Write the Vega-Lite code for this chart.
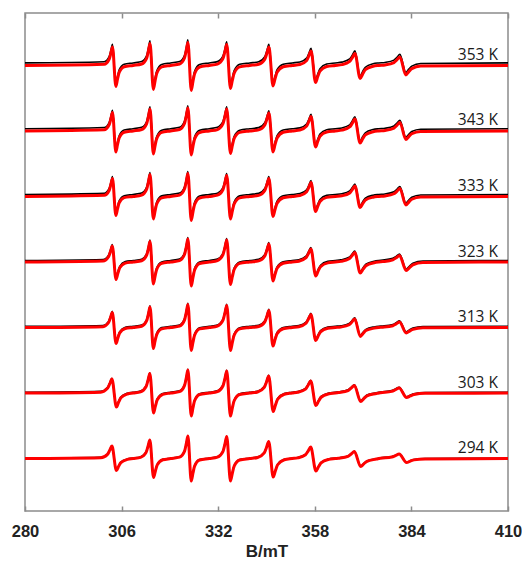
{
"$schema":"https://vega.github.io/schema/vega-lite/v6.json",
"width":483,"height":498,
"autosize":{"type":"none"},
"padding":{"left":25,"top":13,"right":14,"bottom":51},
"background":"white",
"config":{"view":{"stroke":"#8c8c8c","strokeWidth":1.5},"axis":{"grid":false}},
"datasets":{
"labels":[{"T":353,"label":"353 K"},{"T":343,"label":"343 K"},{"T":333,"label":"333 K"},{"T":323,"label":"323 K"},{"T":313,"label":"313 K"},{"T":303,"label":"303 K"},{"T":294,"label":"294 K"}],
"spec":[
{"T":353,"B":280,"s":0,"e":2.5},
{"T":353,"B":301.3,"s":1.2,"e":3.7},{"T":353,"B":302.65,"s":6.2,"e":8.7},{"T":353,"B":303.1,"s":12.1,"e":14.6},{"T":353,"B":303.55,"s":18.5,"e":21},{"T":353,"B":304.45,"s":-21,"e":-18.5},{"T":353,"B":304.9,"s":-13.7,"e":-11.2},{"T":353,"B":305.35,"s":-7,"e":-4.5},{"T":353,"B":306.7,"s":-1.3,"e":1.2},
{"T":353,"B":309.1,"s":0,"e":2.5},
{"T":353,"B":311.4,"s":1.4,"e":3.9},{"T":353,"B":312.75,"s":7.3,"e":9.8},{"T":353,"B":313.2,"s":14.4,"e":16.9},{"T":353,"B":313.65,"s":22,"e":24.5},{"T":353,"B":314.55,"s":-24,"e":-21.5},{"T":353,"B":315.0,"s":-15.7,"e":-13.2},{"T":353,"B":315.45,"s":-8,"e":-5.5},{"T":353,"B":316.8,"s":-1.5,"e":1},
{"T":353,"B":319.2,"s":0,"e":2.5},
{"T":353,"B":321.6,"s":1.4,"e":3.9},{"T":353,"B":322.95,"s":7.7,"e":10.2},{"T":353,"B":323.4,"s":15,"e":17.5},{"T":353,"B":323.85,"s":23,"e":25.5},{"T":353,"B":324.75,"s":-25,"e":-22.5},{"T":353,"B":325.2,"s":-16.3,"e":-13.8},{"T":353,"B":325.65,"s":-8.3,"e":-5.8},{"T":353,"B":327.0,"s":-1.6,"e":0.9},
{"T":353,"B":329.6,"s":0,"e":2.5},
{"T":353,"B":331.8,"s":1.3,"e":3.8},{"T":353,"B":333.3,"s":7,"e":9.5},{"T":353,"B":333.8,"s":13.7,"e":16.2},{"T":353,"B":334.3,"s":21,"e":23.5},{"T":353,"B":335.3,"s":-23,"e":-20.5},{"T":353,"B":335.8,"s":-15,"e":-12.5},{"T":353,"B":336.3,"s":-7.7,"e":-5.2},{"T":353,"B":337.8,"s":-1.4,"e":1.1},
{"T":353,"B":340.5,"s":0,"e":2.5},
{"T":353,"B":342.9,"s":1.2,"e":3.7},{"T":353,"B":344.55,"s":6.2,"e":8.7},{"T":353,"B":345.1,"s":12.1,"e":14.6},{"T":353,"B":345.65,"s":18.5,"e":21},{"T":353,"B":346.75,"s":-20.5,"e":-18},{"T":353,"B":347.3,"s":-13.4,"e":-10.9},{"T":353,"B":347.85,"s":-6.8,"e":-4.3},{"T":353,"B":349.5,"s":-1.3,"e":1.2},
{"T":353,"B":351.9,"s":0,"e":2.5},
{"T":353,"B":354.0,"s":0.9,"e":3.4},{"T":353,"B":355.8,"s":4.8,"e":7.3},{"T":353,"B":356.4,"s":9.5,"e":12},{"T":353,"B":357.0,"s":14.5,"e":17},{"T":353,"B":358.2,"s":-17,"e":-14.5},{"T":353,"B":358.8,"s":-11.1,"e":-8.6},{"T":353,"B":359.4,"s":-5.7,"e":-3.2},{"T":353,"B":361.2,"s":-1.1,"e":1.4},
{"T":353,"B":363.5,"s":0,"e":2.5},
{"T":353,"B":365.3,"s":0.8,"e":3.3},{"T":353,"B":367.4,"s":4,"e":6.5},{"T":353,"B":368.1,"s":7.8,"e":10.3},{"T":353,"B":368.8,"s":12,"e":14.5},{"T":353,"B":370.2,"s":-13,"e":-10.5},{"T":353,"B":370.9,"s":-8.5,"e":-6},{"T":353,"B":371.6,"s":-4.3,"e":-1.8},{"T":353,"B":373.7,"s":-0.8,"e":1.7},
{"T":353,"B":375.2,"s":0,"e":2.5},
{"T":353,"B":376.9,"s":0.5,"e":3},{"T":353,"B":379.3,"s":2.8,"e":5.3},{"T":353,"B":380.1,"s":5.6,"e":8.1},{"T":353,"B":380.9,"s":8.5,"e":11},{"T":353,"B":382.5,"s":-9.5,"e":-7},{"T":353,"B":383.3,"s":-6.2,"e":-3.7},{"T":353,"B":384.1,"s":-3.2,"e":-0.7},{"T":353,"B":386.5,"s":-0.6,"e":1.9},
{"T":353,"B":410,"s":0,"e":2.5},

{"T":343,"B":280,"s":0,"e":2.2},
{"T":343,"B":301.3,"s":1.2,"e":3.4},{"T":343,"B":302.65,"s":6.2,"e":8.4},{"T":343,"B":303.1,"s":12.1,"e":14.3},{"T":343,"B":303.55,"s":18.5,"e":20.7},{"T":343,"B":304.45,"s":-21,"e":-18.8},{"T":343,"B":304.9,"s":-13.7,"e":-11.5},{"T":343,"B":305.35,"s":-7,"e":-4.8},{"T":343,"B":306.7,"s":-1.3,"e":0.9},
{"T":343,"B":309.1,"s":0,"e":2.2},
{"T":343,"B":311.4,"s":1.4,"e":3.6},{"T":343,"B":312.75,"s":7.3,"e":9.5},{"T":343,"B":313.2,"s":14.4,"e":16.6},{"T":343,"B":313.65,"s":22,"e":24.2},{"T":343,"B":314.55,"s":-23,"e":-20.8},{"T":343,"B":315.0,"s":-15,"e":-12.8},{"T":343,"B":315.45,"s":-7.7,"e":-5.5},{"T":343,"B":316.8,"s":-1.4,"e":0.8},
{"T":343,"B":319.2,"s":0,"e":2.2},
{"T":343,"B":321.6,"s":1.4,"e":3.6},{"T":343,"B":322.95,"s":7.7,"e":9.9},{"T":343,"B":323.4,"s":15,"e":17.2},{"T":343,"B":323.85,"s":23,"e":25.2},{"T":343,"B":324.75,"s":-24,"e":-21.8},{"T":343,"B":325.2,"s":-15.7,"e":-13.5},{"T":343,"B":325.65,"s":-8,"e":-5.8},{"T":343,"B":327.0,"s":-1.5,"e":0.7},
{"T":343,"B":329.6,"s":0,"e":2.2},
{"T":343,"B":331.8,"s":1.4,"e":3.6},{"T":343,"B":333.3,"s":7.3,"e":9.5},{"T":343,"B":333.8,"s":14.4,"e":16.6},{"T":343,"B":334.3,"s":22,"e":24.2},{"T":343,"B":335.3,"s":-22.5,"e":-20.3},{"T":343,"B":335.8,"s":-14.7,"e":-12.5},{"T":343,"B":336.3,"s":-7.5,"e":-5.3},{"T":343,"B":337.8,"s":-1.4,"e":0.8},
{"T":343,"B":340.5,"s":0,"e":2.2},
{"T":343,"B":342.9,"s":1.1,"e":3.3},{"T":343,"B":344.55,"s":6,"e":8.2},{"T":343,"B":345.1,"s":11.8,"e":14},{"T":343,"B":345.65,"s":18,"e":20.2},{"T":343,"B":346.75,"s":-21,"e":-18.8},{"T":343,"B":347.3,"s":-13.7,"e":-11.5},{"T":343,"B":347.85,"s":-7,"e":-4.8},{"T":343,"B":349.5,"s":-1.3,"e":0.9},
{"T":343,"B":351.9,"s":0,"e":2.2},
{"T":343,"B":354.0,"s":0.9,"e":3.1},{"T":343,"B":355.8,"s":4.8,"e":7},{"T":343,"B":356.4,"s":9.5,"e":11.7},{"T":343,"B":357.0,"s":14.5,"e":16.7},{"T":343,"B":358.2,"s":-16,"e":-13.8},{"T":343,"B":358.8,"s":-10.4,"e":-8.2},{"T":343,"B":359.4,"s":-5.3,"e":-3.1},{"T":343,"B":361.2,"s":-1,"e":1.2},
{"T":343,"B":363.5,"s":0,"e":2.2},
{"T":343,"B":365.3,"s":0.8,"e":3},{"T":343,"B":367.4,"s":4,"e":6.2},{"T":343,"B":368.1,"s":7.8,"e":10},{"T":343,"B":368.8,"s":12,"e":14.2},{"T":343,"B":370.2,"s":-12,"e":-9.8},{"T":343,"B":370.9,"s":-7.8,"e":-5.6},{"T":343,"B":371.6,"s":-4,"e":-1.8},{"T":343,"B":373.7,"s":-0.8,"e":1.4},
{"T":343,"B":375.2,"s":0,"e":2.2},
{"T":343,"B":376.9,"s":0.5,"e":2.7},{"T":343,"B":379.3,"s":2.8,"e":5},{"T":343,"B":380.1,"s":5.6,"e":7.8},{"T":343,"B":380.9,"s":8.5,"e":10.7},{"T":343,"B":382.5,"s":-8.5,"e":-6.3},{"T":343,"B":383.3,"s":-5.6,"e":-3.4},{"T":343,"B":384.1,"s":-2.8,"e":-0.6},{"T":343,"B":386.5,"s":-0.5,"e":1.7},
{"T":343,"B":410,"s":0,"e":2.2},

{"T":333,"B":280,"s":0,"e":2},
{"T":333,"B":301.3,"s":1.1,"e":3.1},{"T":333,"B":302.65,"s":6,"e":8},{"T":333,"B":303.1,"s":11.8,"e":13.8},{"T":333,"B":303.55,"s":18,"e":20},{"T":333,"B":304.45,"s":-19,"e":-17},{"T":333,"B":304.9,"s":-12.4,"e":-10.4},{"T":333,"B":305.35,"s":-6.3,"e":-4.3},{"T":333,"B":306.7,"s":-1.2,"e":0.8},
{"T":333,"B":309.1,"s":0,"e":2},
{"T":333,"B":311.4,"s":1.4,"e":3.4},{"T":333,"B":312.75,"s":7.3,"e":9.3},{"T":333,"B":313.2,"s":14.4,"e":16.4},{"T":333,"B":313.65,"s":22,"e":24},{"T":333,"B":314.55,"s":-22.5,"e":-20.5},{"T":333,"B":315.0,"s":-14.7,"e":-12.7},{"T":333,"B":315.45,"s":-7.5,"e":-5.5},{"T":333,"B":316.8,"s":-1.4,"e":0.6},
{"T":333,"B":319.2,"s":0,"e":2},
{"T":333,"B":321.6,"s":1.4,"e":3.4},{"T":333,"B":322.95,"s":7.7,"e":9.7},{"T":333,"B":323.4,"s":15,"e":17},{"T":333,"B":323.85,"s":23,"e":25},{"T":333,"B":324.75,"s":-24,"e":-22},{"T":333,"B":325.2,"s":-15.7,"e":-13.7},{"T":333,"B":325.65,"s":-8,"e":-6},{"T":333,"B":327.0,"s":-1.5,"e":0.5},
{"T":333,"B":329.6,"s":0,"e":2},
{"T":333,"B":331.8,"s":1.3,"e":3.3},{"T":333,"B":333.3,"s":7,"e":9},{"T":333,"B":333.8,"s":13.7,"e":15.7},{"T":333,"B":334.3,"s":21,"e":23},{"T":333,"B":335.3,"s":-22.5,"e":-20.5},{"T":333,"B":335.8,"s":-14.7,"e":-12.7},{"T":333,"B":336.3,"s":-7.5,"e":-5.5},{"T":333,"B":337.8,"s":-1.4,"e":0.6},
{"T":333,"B":340.5,"s":0,"e":2},
{"T":333,"B":342.9,"s":1.1,"e":3.1},{"T":333,"B":344.55,"s":6,"e":8},{"T":333,"B":345.1,"s":11.8,"e":13.8},{"T":333,"B":345.65,"s":18,"e":20},{"T":333,"B":346.75,"s":-20,"e":-18},{"T":333,"B":347.3,"s":-13.1,"e":-11.1},{"T":333,"B":347.85,"s":-6.7,"e":-4.7},{"T":333,"B":349.5,"s":-1.3,"e":0.7},
{"T":333,"B":351.9,"s":0,"e":2},
{"T":333,"B":354.0,"s":0.9,"e":2.9},{"T":333,"B":355.8,"s":4.7,"e":6.7},{"T":333,"B":356.4,"s":9.1,"e":11.1},{"T":333,"B":357.0,"s":14,"e":16},{"T":333,"B":358.2,"s":-15,"e":-13},{"T":333,"B":358.8,"s":-9.8,"e":-7.8},{"T":333,"B":359.4,"s":-5,"e":-3},{"T":333,"B":361.2,"s":-0.9,"e":1.1},
{"T":333,"B":363.5,"s":0,"e":2},
{"T":333,"B":365.3,"s":0.7,"e":2.7},{"T":333,"B":367.4,"s":3.5,"e":5.5},{"T":333,"B":368.1,"s":6.9,"e":8.9},{"T":333,"B":368.8,"s":10.5,"e":12.5},{"T":333,"B":370.2,"s":-11,"e":-9},{"T":333,"B":370.9,"s":-7.2,"e":-5.2},{"T":333,"B":371.6,"s":-3.7,"e":-1.7},{"T":333,"B":373.7,"s":-0.7,"e":1.3},
{"T":333,"B":375.2,"s":0,"e":2},
{"T":333,"B":376.9,"s":0.5,"e":2.5},{"T":333,"B":379.3,"s":2.7,"e":4.7},{"T":333,"B":380.1,"s":5.2,"e":7.2},{"T":333,"B":380.9,"s":8,"e":10},{"T":333,"B":382.5,"s":-8.5,"e":-6.5},{"T":333,"B":383.3,"s":-5.6,"e":-3.6},{"T":333,"B":384.1,"s":-2.8,"e":-0.8},{"T":333,"B":386.5,"s":-0.5,"e":1.5},
{"T":333,"B":410,"s":0,"e":2},

{"T":323,"B":280,"s":0,"e":1.5},
{"T":323,"B":301.0,"s":1,"e":2.5},{"T":323,"B":302.5,"s":5.3,"e":6.8},{"T":323,"B":303.0,"s":10.4,"e":11.9},{"T":323,"B":303.5,"s":16,"e":17.5},{"T":323,"B":304.5,"s":-17.5,"e":-16},{"T":323,"B":305.0,"s":-11.4,"e":-9.9},{"T":323,"B":305.5,"s":-5.8,"e":-4.3},{"T":323,"B":307.0,"s":-1.1,"e":0.4},
{"T":323,"B":309.1,"s":0,"e":1.5},
{"T":323,"B":311.4,"s":1.3,"e":2.8},{"T":323,"B":312.75,"s":6.8,"e":8.3},{"T":323,"B":313.2,"s":13.4,"e":14.9},{"T":323,"B":313.65,"s":20.5,"e":22},{"T":323,"B":314.55,"s":-22,"e":-20.5},{"T":323,"B":315.0,"s":-14.4,"e":-12.9},{"T":323,"B":315.45,"s":-7.3,"e":-5.8},{"T":323,"B":316.8,"s":-1.4,"e":0.1},
{"T":323,"B":319.2,"s":0,"e":1.5},
{"T":323,"B":321.6,"s":1.4,"e":2.9},{"T":323,"B":322.95,"s":7.7,"e":9.2},{"T":323,"B":323.4,"s":15,"e":16.5},{"T":323,"B":323.85,"s":23,"e":24.5},{"T":323,"B":324.75,"s":-24,"e":-22.5},{"T":323,"B":325.2,"s":-15.7,"e":-14.2},{"T":323,"B":325.65,"s":-8,"e":-6.5},{"T":323,"B":327.0,"s":-1.5,"e":0},
{"T":323,"B":329.6,"s":0,"e":1.5},
{"T":323,"B":331.8,"s":1.4,"e":2.9},{"T":323,"B":333.3,"s":7.3,"e":8.8},{"T":323,"B":333.8,"s":14.4,"e":15.9},{"T":323,"B":334.3,"s":22,"e":23.5},{"T":323,"B":335.3,"s":-22.5,"e":-21},{"T":323,"B":335.8,"s":-14.7,"e":-13.2},{"T":323,"B":336.3,"s":-7.5,"e":-6},{"T":323,"B":337.8,"s":-1.4,"e":0.1},
{"T":323,"B":340.5,"s":0,"e":1.5},
{"T":323,"B":342.9,"s":1.1,"e":2.6},{"T":323,"B":344.55,"s":6,"e":7.5},{"T":323,"B":345.1,"s":11.8,"e":13.3},{"T":323,"B":345.65,"s":18,"e":19.5},{"T":323,"B":346.75,"s":-19,"e":-17.5},{"T":323,"B":347.3,"s":-12.4,"e":-10.9},{"T":323,"B":347.85,"s":-6.3,"e":-4.8},{"T":323,"B":349.5,"s":-1.2,"e":0.3},
{"T":323,"B":351.9,"s":0,"e":1.5},
{"T":323,"B":353.7,"s":0.8,"e":2.3},{"T":323,"B":355.65,"s":4.3,"e":5.8},{"T":323,"B":356.3,"s":8.5,"e":10},{"T":323,"B":356.95,"s":13,"e":14.5},{"T":323,"B":358.25,"s":-14,"e":-12.5},{"T":323,"B":358.9,"s":-9.1,"e":-7.6},{"T":323,"B":359.55,"s":-4.7,"e":-3.2},{"T":323,"B":361.5,"s":-0.9,"e":0.6},
{"T":323,"B":363.5,"s":0,"e":1.5},
{"T":323,"B":365.0,"s":0.6,"e":2.1},{"T":323,"B":367.25,"s":3.2,"e":4.7},{"T":323,"B":368.0,"s":6.2,"e":7.7},{"T":323,"B":368.75,"s":9.5,"e":11},{"T":323,"B":370.25,"s":-11,"e":-9.5},{"T":323,"B":371.0,"s":-7.2,"e":-5.7},{"T":323,"B":371.75,"s":-3.7,"e":-2.2},{"T":323,"B":374.0,"s":-0.7,"e":0.8},
{"T":323,"B":375.2,"s":0,"e":1.5},
{"T":323,"B":376.3,"s":0.4,"e":1.9},{"T":323,"B":379.0,"s":2.2,"e":3.7},{"T":323,"B":379.9,"s":4.2,"e":5.7},{"T":323,"B":380.8,"s":6.5,"e":8},{"T":323,"B":382.6,"s":-8.5,"e":-7},{"T":323,"B":383.5,"s":-5.6,"e":-4.1},{"T":323,"B":384.4,"s":-2.8,"e":-1.3},{"T":323,"B":387.1,"s":-0.5,"e":1},
{"T":323,"B":410,"s":0,"e":1.5},

{"T":313,"B":280,"s":0,"e":1.2},
{"T":313,"B":301.0,"s":0.9,"e":2.1},{"T":313,"B":302.5,"s":5,"e":6.2},{"T":313,"B":303.0,"s":9.8,"e":11},{"T":313,"B":303.5,"s":15,"e":16.2},{"T":313,"B":304.5,"s":-16,"e":-14.8},{"T":313,"B":305.0,"s":-10.4,"e":-9.2},{"T":313,"B":305.5,"s":-5.3,"e":-4.1},{"T":313,"B":307.0,"s":-1,"e":0.2},
{"T":313,"B":309.1,"s":0,"e":1.2},
{"T":313,"B":311.4,"s":1.3,"e":2.5},{"T":313,"B":312.75,"s":6.8,"e":8},{"T":313,"B":313.2,"s":13.4,"e":14.6},{"T":313,"B":313.65,"s":20.5,"e":21.7},{"T":313,"B":314.55,"s":-21,"e":-19.8},{"T":313,"B":315.0,"s":-13.7,"e":-12.5},{"T":313,"B":315.45,"s":-7,"e":-5.8},{"T":313,"B":316.8,"s":-1.3,"e":-0.1},
{"T":313,"B":319.2,"s":0,"e":1.2},
{"T":313,"B":321.6,"s":1.4,"e":2.6},{"T":313,"B":322.95,"s":7.7,"e":8.9},{"T":313,"B":323.4,"s":15,"e":16.2},{"T":313,"B":323.85,"s":23,"e":24.2},{"T":313,"B":324.75,"s":-23,"e":-21.8},{"T":313,"B":325.2,"s":-15,"e":-13.8},{"T":313,"B":325.65,"s":-7.7,"e":-6.5},{"T":313,"B":327.0,"s":-1.4,"e":-0.2},
{"T":313,"B":329.6,"s":0,"e":1.2},
{"T":313,"B":331.8,"s":1.4,"e":2.6},{"T":313,"B":333.3,"s":7.3,"e":8.5},{"T":313,"B":333.8,"s":14.4,"e":15.6},{"T":313,"B":334.3,"s":22,"e":23.2},{"T":313,"B":335.3,"s":-23,"e":-21.8},{"T":313,"B":335.8,"s":-15,"e":-13.8},{"T":313,"B":336.3,"s":-7.7,"e":-6.5},{"T":313,"B":337.8,"s":-1.4,"e":-0.2},
{"T":313,"B":340.5,"s":0,"e":1.2},
{"T":313,"B":342.9,"s":1.1,"e":2.3},{"T":313,"B":344.55,"s":5.7,"e":6.9},{"T":313,"B":345.1,"s":11.1,"e":12.3},{"T":313,"B":345.65,"s":17,"e":18.2},{"T":313,"B":346.75,"s":-18.5,"e":-17.3},{"T":313,"B":347.3,"s":-12.1,"e":-10.9},{"T":313,"B":347.85,"s":-6.2,"e":-5},{"T":313,"B":349.5,"s":-1.2,"e":0},
{"T":313,"B":351.9,"s":0,"e":1.2},
{"T":313,"B":353.7,"s":0.8,"e":2},{"T":313,"B":355.65,"s":4.3,"e":5.5},{"T":313,"B":356.3,"s":8.5,"e":9.7},{"T":313,"B":356.95,"s":13,"e":14.2},{"T":313,"B":358.25,"s":-13,"e":-11.8},{"T":313,"B":358.9,"s":-8.5,"e":-7.3},{"T":313,"B":359.55,"s":-4.3,"e":-3.1},{"T":313,"B":361.5,"s":-0.8,"e":0.4},
{"T":313,"B":363.5,"s":0,"e":1.2},
{"T":313,"B":365.0,"s":0.5,"e":1.7},{"T":313,"B":367.25,"s":2.8,"e":4},{"T":313,"B":368.0,"s":5.6,"e":6.8},{"T":313,"B":368.75,"s":8.5,"e":9.7},{"T":313,"B":370.25,"s":-9,"e":-7.8},{"T":313,"B":371.0,"s":-5.9,"e":-4.7},{"T":313,"B":371.75,"s":-3,"e":-1.8},{"T":313,"B":374.0,"s":-0.6,"e":0.6},
{"T":313,"B":375.2,"s":0,"e":1.2},
{"T":313,"B":376.3,"s":0.3,"e":1.5},{"T":313,"B":379.0,"s":1.8,"e":3},{"T":313,"B":379.9,"s":3.6,"e":4.8},{"T":313,"B":380.8,"s":5.5,"e":6.7},{"T":313,"B":382.6,"s":-5.5,"e":-4.3},{"T":313,"B":383.5,"s":-3.6,"e":-2.4},{"T":313,"B":384.4,"s":-1.8,"e":-0.6},{"T":313,"B":387.1,"s":-0.3,"e":0.9},
{"T":313,"B":410,"s":0,"e":1.2},

{"T":303,"B":280,"s":0,"e":0.8},
{"T":303,"B":300.4,"s":0.9,"e":1.7},{"T":303,"B":302.2,"s":4.7,"e":5.5},{"T":303,"B":302.8,"s":9.1,"e":9.9},{"T":303,"B":303.4,"s":14,"e":14.8},{"T":303,"B":304.6,"s":-14,"e":-13.2},{"T":303,"B":305.2,"s":-9.1,"e":-8.3},{"T":303,"B":305.8,"s":-4.7,"e":-3.9},{"T":303,"B":307.6,"s":-0.9,"e":-0.1},
{"T":303,"B":309.1,"s":0,"e":0.8},
{"T":303,"B":311.1,"s":1.2,"e":2},{"T":303,"B":312.6,"s":6.5,"e":7.3},{"T":303,"B":313.1,"s":12.7,"e":13.5},{"T":303,"B":313.6,"s":19.5,"e":20.3},{"T":303,"B":314.6,"s":-20,"e":-19.2},{"T":303,"B":315.1,"s":-13.1,"e":-12.3},{"T":303,"B":315.6,"s":-6.7,"e":-5.9},{"T":303,"B":317.1,"s":-1.3,"e":-0.5},
{"T":303,"B":319.2,"s":0,"e":0.8},
{"T":303,"B":321.6,"s":1.4,"e":2.2},{"T":303,"B":322.95,"s":7.7,"e":8.5},{"T":303,"B":323.4,"s":15,"e":15.8},{"T":303,"B":323.85,"s":23,"e":23.8},{"T":303,"B":324.75,"s":-23,"e":-22.2},{"T":303,"B":325.2,"s":-15,"e":-14.2},{"T":303,"B":325.65,"s":-7.7,"e":-6.9},{"T":303,"B":327.0,"s":-1.4,"e":-0.6},
{"T":303,"B":329.6,"s":0,"e":0.8},
{"T":303,"B":331.8,"s":1.4,"e":2.2},{"T":303,"B":333.3,"s":7.3,"e":8.1},{"T":303,"B":333.8,"s":14.4,"e":15.2},{"T":303,"B":334.3,"s":22,"e":22.8},{"T":303,"B":335.3,"s":-23,"e":-22.2},{"T":303,"B":335.8,"s":-15,"e":-14.2},{"T":303,"B":336.3,"s":-7.7,"e":-6.9},{"T":303,"B":337.8,"s":-1.4,"e":-0.6},
{"T":303,"B":340.5,"s":0,"e":0.8},
{"T":303,"B":342.6,"s":1.1,"e":1.9},{"T":303,"B":344.4,"s":5.7,"e":6.5},{"T":303,"B":345.0,"s":11.1,"e":11.9},{"T":303,"B":345.6,"s":17,"e":17.8},{"T":303,"B":346.8,"s":-18.5,"e":-17.7},{"T":303,"B":347.4,"s":-12.1,"e":-11.3},{"T":303,"B":348.0,"s":-6.2,"e":-5.4},{"T":303,"B":349.8,"s":-1.2,"e":-0.4},
{"T":303,"B":351.9,"s":0,"e":0.8},
{"T":303,"B":353.4,"s":0.8,"e":1.6},{"T":303,"B":355.5,"s":4,"e":4.8},{"T":303,"B":356.2,"s":7.8,"e":8.6},{"T":303,"B":356.9,"s":12,"e":12.8},{"T":303,"B":358.3,"s":-12.5,"e":-11.7},{"T":303,"B":359.0,"s":-8.2,"e":-7.4},{"T":303,"B":359.7,"s":-4.2,"e":-3.4},{"T":303,"B":361.8,"s":-0.8,"e":0},
{"T":303,"B":363.5,"s":0,"e":0.8},
{"T":303,"B":364.4,"s":0.5,"e":1.3},{"T":303,"B":366.95,"s":2.5,"e":3.3},{"T":303,"B":367.8,"s":4.9,"e":5.7},{"T":303,"B":368.65,"s":7.5,"e":8.3},{"T":303,"B":370.35,"s":-8.5,"e":-7.7},{"T":303,"B":371.2,"s":-5.6,"e":-4.8},{"T":303,"B":372.05,"s":-2.8,"e":-2},{"T":303,"B":374.6,"s":-0.5,"e":0.3},
{"T":303,"B":375.2,"s":0,"e":0.8},
{"T":303,"B":375.7,"s":0.3,"e":1.1},{"T":303,"B":378.7,"s":1.7,"e":2.5},{"T":303,"B":379.7,"s":3.3,"e":4.1},{"T":303,"B":380.7,"s":5,"e":5.8},{"T":303,"B":382.7,"s":-4.5,"e":-3.7},{"T":303,"B":383.7,"s":-2.9,"e":-2.1},{"T":303,"B":384.7,"s":-1.5,"e":-0.7},{"T":303,"B":387.7,"s":-0.3,"e":0.5},
{"T":303,"B":410,"s":0,"e":0.8},

{"T":294,"B":280,"s":0,"e":0.4},
{"T":294,"B":300.4,"s":0.8,"e":1.2},{"T":294,"B":302.2,"s":4.2,"e":4.6},{"T":294,"B":302.8,"s":8.2,"e":8.6},{"T":294,"B":303.4,"s":12.5,"e":12.9},{"T":294,"B":304.6,"s":-12,"e":-11.6},{"T":294,"B":305.2,"s":-7.8,"e":-7.4},{"T":294,"B":305.8,"s":-4,"e":-3.6},{"T":294,"B":307.6,"s":-0.8,"e":-0.4},
{"T":294,"B":309.1,"s":0,"e":0.4},
{"T":294,"B":311.1,"s":1.2,"e":1.6},{"T":294,"B":312.6,"s":6.2,"e":6.6},{"T":294,"B":313.1,"s":12.1,"e":12.5},{"T":294,"B":313.6,"s":18.5,"e":18.9},{"T":294,"B":314.6,"s":-19,"e":-18.6},{"T":294,"B":315.1,"s":-12.4,"e":-12},{"T":294,"B":315.6,"s":-6.3,"e":-5.9},{"T":294,"B":317.1,"s":-1.2,"e":-0.8},
{"T":294,"B":319.2,"s":0,"e":0.4},
{"T":294,"B":321.6,"s":1.4,"e":1.8},{"T":294,"B":322.95,"s":7.5,"e":7.9},{"T":294,"B":323.4,"s":14.7,"e":15.1},{"T":294,"B":323.85,"s":22.5,"e":22.9},{"T":294,"B":324.75,"s":-22.5,"e":-22.1},{"T":294,"B":325.2,"s":-14.7,"e":-14.3},{"T":294,"B":325.65,"s":-7.5,"e":-7.1},{"T":294,"B":327.0,"s":-1.4,"e":-1},
{"T":294,"B":329.6,"s":0,"e":0.4},
{"T":294,"B":331.8,"s":1.4,"e":1.8},{"T":294,"B":333.3,"s":7.3,"e":7.7},{"T":294,"B":333.8,"s":14.4,"e":14.8},{"T":294,"B":334.3,"s":22,"e":22.4},{"T":294,"B":335.3,"s":-22.5,"e":-22.1},{"T":294,"B":335.8,"s":-14.7,"e":-14.3},{"T":294,"B":336.3,"s":-7.5,"e":-7.1},{"T":294,"B":337.8,"s":-1.4,"e":-1},
{"T":294,"B":340.5,"s":0,"e":0.4},
{"T":294,"B":342.6,"s":1.1,"e":1.5},{"T":294,"B":344.4,"s":5.7,"e":6.1},{"T":294,"B":345.0,"s":11.1,"e":11.5},{"T":294,"B":345.6,"s":17,"e":17.4},{"T":294,"B":346.8,"s":-18.5,"e":-18.1},{"T":294,"B":347.4,"s":-12.1,"e":-11.7},{"T":294,"B":348.0,"s":-6.2,"e":-5.8},{"T":294,"B":349.8,"s":-1.2,"e":-0.8},
{"T":294,"B":351.9,"s":0,"e":0.4},
{"T":294,"B":353.4,"s":0.7,"e":1.1},{"T":294,"B":355.5,"s":3.8,"e":4.2},{"T":294,"B":356.2,"s":7.5,"e":7.9},{"T":294,"B":356.9,"s":11.5,"e":11.9},{"T":294,"B":358.3,"s":-12.5,"e":-12.1},{"T":294,"B":359.0,"s":-8.2,"e":-7.8},{"T":294,"B":359.7,"s":-4.2,"e":-3.8},{"T":294,"B":361.8,"s":-0.8,"e":-0.4},
{"T":294,"B":363.5,"s":0,"e":0.4},
{"T":294,"B":364.4,"s":0.4,"e":0.8},{"T":294,"B":366.95,"s":2.3,"e":2.7},{"T":294,"B":367.8,"s":4.6,"e":5},{"T":294,"B":368.65,"s":7,"e":7.4},{"T":294,"B":370.35,"s":-8,"e":-7.6},{"T":294,"B":371.2,"s":-5.2,"e":-4.8},{"T":294,"B":372.05,"s":-2.7,"e":-2.3},{"T":294,"B":374.6,"s":-0.5,"e":-0.1},
{"T":294,"B":375.2,"s":0,"e":0.4},
{"T":294,"B":375.7,"s":0.3,"e":0.7},{"T":294,"B":378.7,"s":1.5,"e":1.9},{"T":294,"B":379.7,"s":2.9,"e":3.3},{"T":294,"B":380.7,"s":4.5,"e":4.9},{"T":294,"B":382.7,"s":-4,"e":-3.6},{"T":294,"B":383.7,"s":-2.6,"e":-2.2},{"T":294,"B":384.7,"s":-1.3,"e":-0.9},{"T":294,"B":387.7,"s":-0.3,"e":0.1},
{"T":294,"B":410,"s":0,"e":0.4}
]},
"resolve":{"axis":{"x":"independent"}},
"layer":[
{"data":{"name":"spec"},
 "mark":{"type":"line","color":"#000000","strokeWidth":1.6,"interpolate":"monotone"},
 "encoding":{
  "x":{"field":"B","type":"quantitative","scale":{"domain":[280,410],"nice":false,"zero":false},
   "axis":{"orient":"bottom","values":[280,306,332,358,384,410],"domain":false,"offset":-5,"tickSize":5,"tickColor":"#8c8c8c","tickWidth":1.5,"labelFont":"Liberation Sans","labelFontWeight":"bold","labelFontSize":16.5,"labelColor":"#222222","labelPadding":12,"labelFlush":false,"labelOverlap":false,"title":"B/mT","titleFont":"Liberation Sans","titleFontSize":17,"titleFontWeight":"bold","titleColor":"#222222","titlePadding":4}},
  "y":{"field":"T","type":"ordinal","sort":"descending","scale":{"type":"point","padding":0.8},"axis":null},
  "yOffset":{"field":"e","type":"quantitative","scale":{"domain":[-30,30],"range":[30,-30]}},
  "detail":{"field":"T"},
  "order":{"field":"B","type":"quantitative"}
 }},
{"data":{"name":"spec"},
 "mark":{"type":"line","color":"#ff0000","strokeWidth":3,"interpolate":"monotone"},
 "encoding":{
  "x":{"field":"B","type":"quantitative","scale":{"domain":[280,410],"nice":false,"zero":false},
   "axis":{"orient":"top","values":[280,306,332,358,384,410],"domain":false,"offset":-5,"labels":false,"tickSize":5,"tickColor":"#8c8c8c","tickWidth":1.5,"title":null}},
  "y":{"field":"T","type":"ordinal","sort":"descending","scale":{"type":"point","padding":0.8},"axis":null},
  "yOffset":{"field":"s","type":"quantitative","scale":{"domain":[-30,30],"range":[30,-30]}},
  "detail":{"field":"T"},
  "order":{"field":"B","type":"quantitative"}
 }},
{"data":{"name":"labels"},
 "mark":{"type":"text","align":"right","baseline":"middle","dy":-10.5,"font":"Open Sans","fontSize":15.5,"color":"#1a1a1a"},
 "encoding":{
  "x":{"datum":407.3,"type":"quantitative","axis":null},
  "y":{"field":"T","type":"ordinal","sort":"descending","scale":{"type":"point","padding":0.8},"axis":null},
  "text":{"field":"label"}
 }}
]
}
